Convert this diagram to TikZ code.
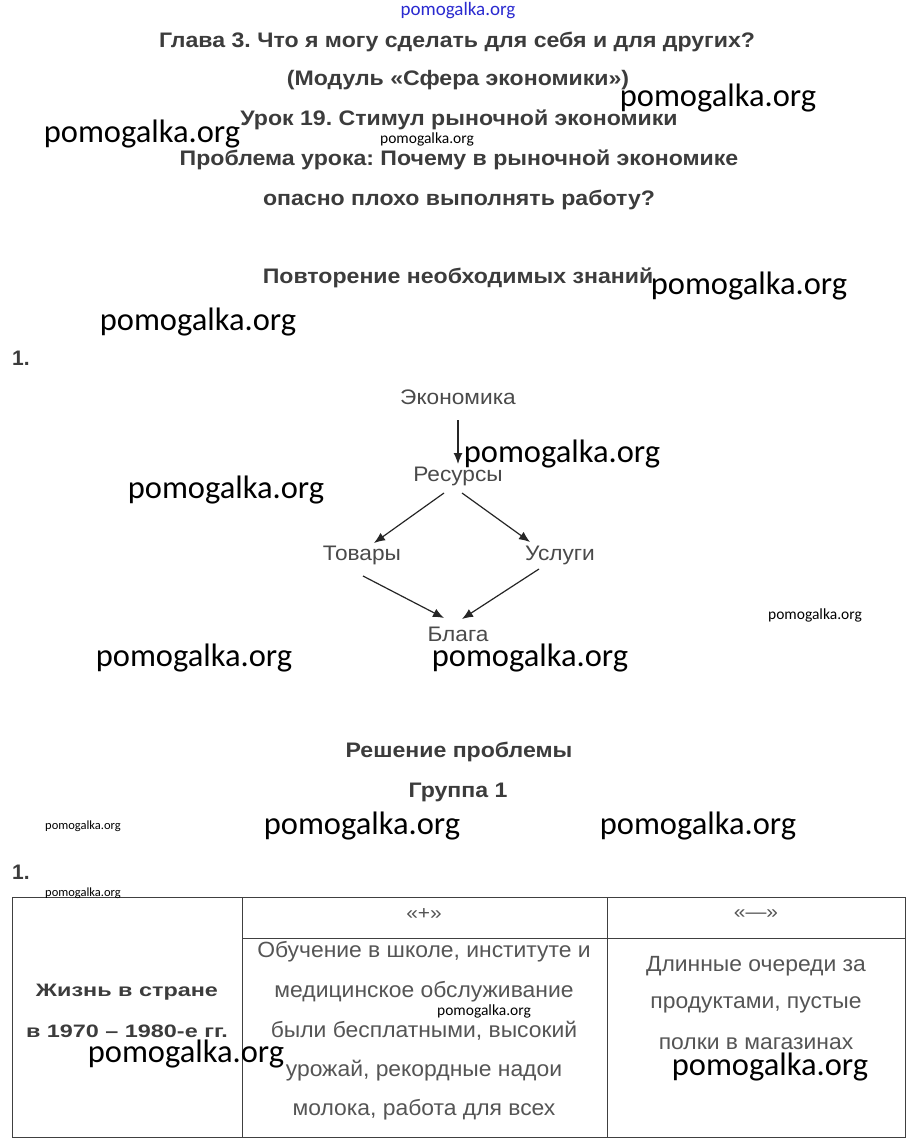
\documentclass[tikz,border=0pt]{standalone}
\usepackage{fontspec}
\setmainfont{Liberation Sans}
\newfontfamily\headfont{Liberation Sans}[FakeStretch=1.1]
\newfontfamily\termfont{Liberation Sans}[FakeStretch=1.08]
\newfontfamily\signfont{Liberation Sans}[FakeStretch=1.1]
\newfontfamily\cellfont{Liberation Sans}[FakeStretch=1.04]
\newfontfamily\boldcellfont{Liberation Sans}[FakeStretch=1.3]
\newfontfamily\wmfont{Carlito}
\usetikzlibrary{arrows.meta,calc}
\definecolor{headgray}{HTML}{3C3C3C}
\definecolor{diagray}{HTML}{4A4A4A}
\definecolor{tabgray}{HTML}{555555}
\definecolor{wmblue}{HTML}{2A2AD0}
\frenchspacing
\tikzset{
  head/.style={font=\fontsize{21}{25}\selectfont\headfont\bfseries, text=headgray, inner sep=0pt},
  num/.style={font=\fontsize{21}{24}\selectfont\bfseries, text=headgray, inner sep=0pt},
  term/.style={font=\fontsize{21}{24}\selectfont\termfont, text=diagray, inner sep=1pt},
  link/.style={-{Latex[length=11pt,width=9pt]}, draw=black!85, line width=1.2pt},
  cell/.style={font=\fontsize{22}{26}\selectfont\cellfont, text=tabgray, inner sep=0pt},
  sign/.style={font=\fontsize{19}{22}\selectfont\signfont, text=tabgray, inner sep=0pt},
  boldcell/.style={font=\fontsize{18}{22}\selectfont\boldcellfont\bfseries, text=headgray, inner sep=0pt},
  rule/.style={draw=black!75, line width=1pt},
  wm/.style={font=\fontsize{32.5}{36}\selectfont\wmfont, text=black, inner sep=0pt},
  wmsmall/.style={font=\fontsize{15.5}{17}\selectfont\wmfont, text=black, inner sep=0pt},
  wmtiny/.style={font=\fontsize{12.5}{14}\selectfont\wmfont, text=black, inner sep=0pt},
}
\begin{document}
\begin{tikzpicture}[x=1pt,y=-1pt]
\useasboundingbox[fill=white] (0,0) rectangle (915,1147);

% header
\node[font=\fontsize{19}{21}\selectfont\wmfont, text=wmblue, inner sep=0pt] (wmtop) at (458,11) {pomogalka.org};
\node[head] (h1) at (457,42) {Глава 3. Что я могу сделать для себя и для других?};
\node[head] (h2) at (458,80) {(Модуль «Сфера экономики»)};
\node[head] (h3) at (459,120) {Урок 19. Стимул рыночной экономики};
\node[head] (h4) at (459,160) {Проблема урока: Почему в рыночной экономике};
\node[head] (h5) at (459,200) {опасно плохо выполнять работу?};
\node[head] (h6) at (458,278) {Повторение необходимых знаний};
\node[num] (n1) at (21,358) {1.};

% diagram
\node[term] (eco) at (458,397) {Экономика};
\node[term] (res) at (458,476) {Ресурсы};
\node[term] (tov) at (362,555) {Товары};
\node[term] (usl) at (560,555) {Услуги};
\node[term] (bla) at (458,634) {Блага};
\coordinate (e0) at ($(eco)+(0,23)$);
\coordinate (e1) at ($(res)+(0,-12)$);
\coordinate (r1) at ($(res)+(-14,17)$);
\coordinate (t0) at ($(tov)+(12,-12)$);
\coordinate (r2) at ($(res)+(4,17)$);
\coordinate (u0) at ($(usl)+(-30,-13)$);
\coordinate (t1) at ($(tov)+(1,21)$);
\coordinate (b0) at ($(bla)+(-14,-16)$);
\coordinate (u1) at ($(usl)+(-21,14)$);
\coordinate (b1) at ($(bla)+(4,-15)$);
\draw[link] (e0) -- (e1);
\draw[link] (r1) -- (t0);
\draw[link] (r2) -- (u0);
\draw[link] (t1) -- (b0);
\draw[link] (u1) -- (b1);

\node[head] (h7) at (459,752) {Решение проблемы};
\node[head] (h8) at (458,792) {Группа 1};
\node[num] (n2) at (21,872) {1.};

% table
\coordinate (tl) at (12,897);
\coordinate (tr) at (905,897);
\coordinate (bl) at (12,1137);
\coordinate (br) at (905,1137);
\coordinate (c1t) at (242,897);
\coordinate (c1b) at (242,1137);
\coordinate (c2t) at (607,897);
\coordinate (c2b) at (607,1137);
\coordinate (m1) at (242,938);
\coordinate (m2) at (905,938);
\draw[rule] (tl) -- (tr) -- (br) -- (bl) -- cycle;
\draw[rule] (c1t) -- (c1b);
\draw[rule] (c2t) -- (c2b);
\draw[rule] (m1) -- (m2);

\node[sign] (plus) at (424,914) {«+»};
\node[sign] (minus) at (756,914) {«—»};
\node[boldcell] (l1) at (127,992) {Жизнь в стране};
\node[boldcell] (l2) at (127,1031) {в 1970 – 1980-е гг.};
\node[cell] (p1) at (424,952) {Обучение в школе, институте и};
\node[cell] (p2) at (424,992) {медицинское обслуживание};
\node[cell] (p3) at (424,1031) {были бесплатными, высокий};
\node[cell] (p4) at (424,1071) {урожай, рекордные надои};
\node[cell] (p5) at (424,1110) {молока, работа для всех};
\node[cell] (q1) at (756,966) {Длинные очереди за};
\node[cell] (q2) at (756,1005) {продуктами, пустые};
\node[cell] (q3) at (756,1044) {полки в магазинах};

% watermarks
\node[wm] (w1) at (718,98) {pomogalka.org};
\node[wm] (w2) at (142,134) {pomogalka.org};
\node[wm] (w3) at (749,286) {pomogalka.org};
\node[wm] (w4) at (198,322) {pomogalka.org};
\node[wm] (w5) at (562,454) {pomogalka.org};
\node[wm] (w6) at (226,490) {pomogalka.org};
\node[wm] (w7) at (194,658) {pomogalka.org};
\node[wm] (w8) at (530,658) {pomogalka.org};
\node[wm] (w9) at (362,826) {pomogalka.org};
\node[wm] (w10) at (698,826) {pomogalka.org};
\node[wm] (w11) at (186,1054) {pomogalka.org};
\node[wm] (w12) at (770,1067) {pomogalka.org};
\node[wmsmall] (s1) at (427,139) {pomogalka.org};
\node[wmsmall] (s2) at (815,615) {pomogalka.org};
\node[wmtiny] (s3) at (83,826) {pomogalka.org};
\node[wmtiny] (s4) at (83,893) {pomogalka.org};
\node[wmsmall] (s5) at (484,1011) {pomogalka.org};
\end{tikzpicture}
\end{document}
